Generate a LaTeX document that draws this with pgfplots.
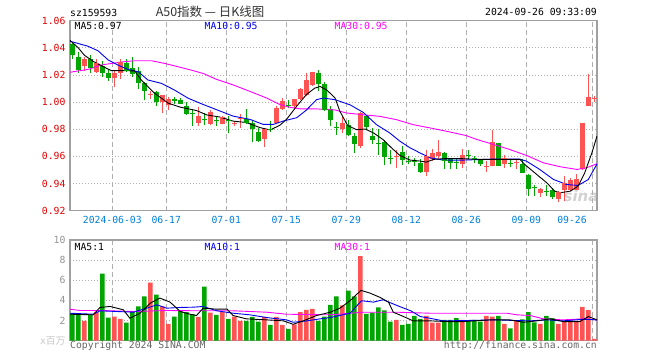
\documentclass[border=0pt]{standalone}
\usepackage{fontspec}
\usepackage{pgfplots}
\pgfplotsset{compat=1.18}
\usepackage{pgfplotstable}
\newfontfamily\mono{DejaVu Sans Mono}
\newfontfamily\cjk{Noto Sans CJK SC}
\newfontfamily\sans{DejaVu Sans}
\definecolor{cred}{RGB}{255,82,82}
\definecolor{cgreen}{RGB}{0,165,0}
\definecolor{axgray}{RGB}{160,160,160}
\definecolor{gridgray}{RGB}{175,175,175}
\definecolor{lblred}{RGB}{230,0,0}
\definecolor{lblblue}{RGB}{0,128,220}
\definecolor{mag}{RGB}{255,0,255}
\definecolor{ma10}{RGB}{0,0,240}

\pgfplotstableread{
i o h l c
2 1.0266 1.0334 1.0232 1.0317
4 1.0224 1.0315 1.0212 1.0285
7 1.0180 1.0236 1.0110 1.0212
8 1.0212 1.0317 1.0171 1.0293
13 1.0058 1.0085 1.0022 1.0058
15 1.0000 1.0050 0.9919 1.0046
16 0.9980 1.0040 0.9944 1.0022
21 0.9845 0.9963 0.9822 0.9895
23 0.9836 0.9945 0.9829 0.9921
25 0.9836 0.9897 0.9836 0.9885
27 0.9844 0.9860 0.9826 0.9844
28 0.9878 0.9910 0.9812 0.9878
32 0.9727 0.9812 0.9667 0.9800
34 0.9844 0.9970 0.9836 0.9950
35 0.9950 1.0030 0.9945 1.0006
37 0.9970 1.0023 0.9951 1.0023
38 1.0023 1.0103 1.0018 1.0096
39 1.0055 1.0212 1.0043 1.0159
40 1.0127 1.0224 1.0120 1.0217
45 0.9802 0.9895 0.9773 0.9841
48 0.9676 0.9924 0.9663 0.9919
54 0.9597 0.9650 0.9517 0.9597
59 0.9485 0.9650 0.9456 0.9597
60 0.9583 0.9651 0.9566 0.9622
61 0.9602 0.9724 0.9578 0.9631
65 0.9546 0.9651 0.9516 0.9610
69 0.9528 0.9565 0.9484 0.9528
70 0.9533 0.9794 0.9528 0.9706
72 0.9546 0.9614 0.9516 0.9583
74 0.9553 0.9583 0.9509 0.9553
78 0.9327 0.9368 0.9302 0.9356
81 0.9287 0.9344 0.9263 0.9337
82 0.9351 0.9455 0.9270 0.9400
83 0.9351 0.9442 0.9344 0.9425
84 0.9356 0.9467 0.9351 0.9430
85 0.9504 0.9848 0.9499 0.9843
86 0.9975 1.0210 0.9970 1.0035
87 1.0025 1.0045 1.0003 1.0025
}\upK

\pgfplotstableread{
i o h l c
0 1.0428 1.0445 1.0315 1.0354
1 1.0334 1.0370 1.0217 1.0244
3 1.0317 1.0346 1.0217 1.0254
5 1.0266 1.0302 1.0188 1.0217
6 1.0217 1.0236 1.0158 1.0180
9 1.0285 1.0320 1.0224 1.0232
10 1.0249 1.0334 1.0188 1.0212
11 1.0232 1.0261 1.0095 1.0144
12 1.0144 1.0150 1.0012 1.0085
14 1.0078 1.0080 0.9973 1.0005
17 1.0022 1.0040 0.9988 1.0010
18 1.0017 1.0029 0.9985 0.9988
19 0.9973 0.9998 0.9905 0.9919
20 0.9914 0.9949 0.9827 0.9914
22 0.9875 0.9920 0.9830 0.9870
24 0.9868 0.9897 0.9824 0.9868
26 0.9865 0.9897 0.9771 0.9865
29 0.9878 0.9950 0.9837 0.9849
30 0.9844 0.9861 0.9703 0.9807
31 0.9781 0.9812 0.9703 0.9715
33 0.9800 0.9861 0.9780 0.9800
36 0.9975 1.0018 0.9958 0.9975
41 1.0217 1.0236 1.0079 1.0139
42 1.0135 1.0145 0.9933 0.9945
43 0.9953 0.9970 0.9827 0.9870
44 0.9810 0.9851 0.9760 0.9810
46 0.9834 0.9866 0.9749 0.9761
47 0.9754 0.9773 0.9627 0.9695
49 0.9895 0.9907 0.9793 0.9817
50 0.9754 0.9810 0.9688 0.9724
51 0.9695 0.9802 0.9614 0.9695
52 0.9705 0.9724 0.9534 0.9597
53 0.9583 0.9646 0.9541 0.9583
55 0.9631 0.9675 0.9534 0.9578
56 0.9566 0.9602 0.9541 0.9566
57 0.9566 0.9590 0.9529 0.9566
58 0.9553 0.9578 0.9480 0.9492
62 0.9622 0.9631 0.9505 0.9573
63 0.9583 0.9590 0.9505 0.9558
64 0.9553 0.9590 0.9509 0.9553
66 0.9607 0.9646 0.9583 0.9607
67 0.9583 0.9602 0.9553 0.9583
68 0.9578 0.9583 0.9533 0.9546
71 0.9696 0.9700 0.9528 0.9533
73 0.9546 0.9570 0.9524 0.9546
75 0.9541 0.9583 0.9479 0.9484
76 0.9460 0.9467 0.9307 0.9361
77 0.9368 0.9393 0.9312 0.9368
79 0.9344 0.9393 0.9307 0.9344
80 0.9356 0.9368 0.9287 0.9302
}\downK

\pgfplotstableread{
i v
2 1.97
4 2.83
7 2.4
8 2.17
13 5.77
15 3.4
16 1.67
21 2.37
23 2.8
25 2.83
27 2.4
28 1.97
32 2.37
34 2.37
35 1.57
37 1.63
38 2.83
39 3.07
40 3.17
45 3.5
48 8.4
54 2.07
59 2.47
60 1.8
61 1.8
65 2.07
69 2.47
70 2.4
72 1.67
74 1.97
78 1.67
81 1.67
82 1.9
83 2.03
84 1.9
85 3.37
86 3.03
87 0.17
}\upV

\pgfplotstableread{
i v
0 2.73
1 2.57
3 2.57
5 6.67
6 2.3
9 1.8
10 2.83
11 3.4
12 4.4
14 4.57
17 2.4
18 2.97
19 2.83
20 2.63
22 5.37
24 2.57
26 2.17
29 1.97
30 2.37
31 1.9
33 1.57
36 1.17
41 1.97
42 2.4
43 3.57
44 4.4
46 4.97
47 4.4
49 2.67
50 2.8
51 3.3
52 3.0
53 1.9
55 1.57
56 1.67
57 2.47
58 2.17
62 2.07
63 2.07
64 2.23
66 1.97
67 2.07
68 1.9
71 2.47
73 1.23
75 2.13
76 2.83
77 1.83
79 2.47
80 2.23
}\downV

\newcommand{\mf}{\mono\fontsize{9.8}{11}\selectfont}
\pgfplotsset{
  wick/.style={only marks, mark=*, mark size=0pt, mark options={draw=none, fill=none},
    error bars/.cd, y dir=plus, y explicit, error mark=none,
    error bar style={draw=#1, line width=1bp, line cap=butt}},
  body/.style={only marks, mark=*, mark size=0pt, mark options={draw=none, fill=none},
    error bars/.cd, y dir=plus, y explicit, error mark=none,
    error bar style={draw=#1, line width=4.5bp, line cap=butt}},
  dojimark/.style={only marks, mark=-, mark size=2.4bp, mark options={draw=#1, line width=1bp}},
}

\begin{document}
\begin{tikzpicture}[x=1bp,y=1bp]
\path[use as bounding box] (0,0) rectangle (660,360);
\node[anchor=center, inner sep=0, text=gray!35, font=\sans\bfseries\itshape\fontsize{15}{16}\selectfont] at (581,164) {sina};

\begin{axis}[
  at={(70bp,149.3bp)}, anchor=south west, scale only axis,
  width=527bp, height=190bp,
  xmin=-0.383, xmax=87.45, ymin=0.92, ymax=1.06,
  axis line style={draw=axgray, line width=1.2bp},
  major tick length=0pt,
  xtick={6.667,15.667,25.667,35.667,45.667,55.667,65.667,75.667,86.667},
  xticklabels={2024-06-03,06-17,07-01,07-15,07-29,08-12,08-26,09-09,{\llap{09-26\kern5.6bp}}},
  ytick={0.92,0.94,0.96,0.98,1.00,1.02,1.04,1.06},
  yticklabels={0.92,0.94,0.96,0.98,1.00,1.02,1.04,1.06},
  xmajorgrids, ymajorgrids,
  x grid style={gridgray, dash pattern=on 5bp off 3bp, line width=0.9bp},
  y grid style={gridgray, dash pattern=on 1bp off 2bp, line width=0.9bp},
  xticklabel style={font=\mf, text=lblblue, yshift=-2.5bp},
  yticklabel style={font=\mf, text=lblred, xshift=-1bp},
  clip=true,
]
% red candles
\addplot[wick=cred] table[x=i, y=l, y error expr=\thisrow{h}-\thisrow{l}] {\upK};
\addplot[body=cred] table[x=i, y=o, y error expr=\thisrow{c}-\thisrow{o}] {\upK};
\addplot[dojimark=cred] table[x=i, y=c] {\upK};
% green candles
\addplot[wick=cgreen] table[x=i, y=l, y error expr=\thisrow{h}-\thisrow{l}] {\downK};
\addplot[body=cgreen] table[x=i, y=c, y error expr=\thisrow{o}-\thisrow{c}] {\downK};
\addplot[dojimark=cgreen] table[x=i, y=c] {\downK};
% MA30
\addplot[mag, line width=0.9bp, mark=none] coordinates {
(-0.4,1.0220)(2.6,1.0241)(4.8,1.0273)(6.5,1.0285)(8.7,1.0298)(10.4,1.0305)(13.2,1.0305)
(15.4,1.0285)(17.6,1.0261)(19.8,1.0236)(21.9,1.0210)(24,1.0168)(26.8,1.0127)(29.6,1.0079)
(32.4,1.0030)(34.6,0.9982)(36.3,0.9962)(38,0.9950)(40.7,0.9950)(43.8,0.9942)(45.7,0.9920)
(48.5,0.9907)(51.3,0.9895)(54,0.9871)(56.8,0.9834)(59.6,0.9810)(62.4,0.9785)(65.6,0.9754)
(67.4,0.9725)(70.2,0.9688)(72.9,0.9651)(75.7,0.9607)(78.5,0.9553)(81.3,0.9524)(84.1,0.9504)
(85.7,0.9516)(87.45,0.9546)};
% MA10
\addplot[ma10, line width=0.9bp, mark=none] coordinates {
(-0.4,1.0449)(2.6,1.0412)(4.3,1.0378)(6,1.0310)(7.6,1.0273)(9.3,1.0241)(11,1.0224)
(12.6,1.0163)(14.8,1.0139)(17,1.0090)(19.3,1.0029)(21.4,0.9990)(24,0.9945)(26.8,0.9897)
(29.6,0.9873)(31.8,0.9836)(33.5,0.9836)(35.2,0.9861)(37.4,0.9885)(39,0.9941)(40.7,1.0018)
(41.8,1.0030)(43.8,1.0018)(46.3,0.9980)(48.5,0.9924)(50.7,0.9834)(52.9,0.9773)(54.6,0.9712)
(56.3,0.9663)(57.9,0.9627)(59.6,0.9590)(61.8,0.9573)(65.2,0.9573)(70,0.9580)(74.6,0.9580)
(75.7,0.9565)(77.9,0.9504)(80.2,0.9430)(82.4,0.9393)(84.3,0.9386)(86,0.9430)(87.45,0.9545)};
% MA5
\addplot[black, line width=0.9bp, mark=none] coordinates {
(-0.4,1.0456)(1,1.0400)(2,1.0346)(3.5,1.0300)(5.4,1.0256)(6.5,1.0232)(8.5,1.0232)(10.4,1.0230)
(11.5,1.0163)(13.7,1.0066)(16,0.9992)(18,0.9963)(20.7,0.9938)(22.4,0.9906)(24.6,0.9890)
(26.8,0.9860)(29,0.9850)(31.3,0.9812)(33,0.9795)(34.6,0.9830)(35.7,0.9873)(37.4,0.9970)
(39,1.0055)(40.4,1.0103)(41.3,1.0115)(42.4,1.0090)(43.8,1.0030)(44.6,0.9932)(45.9,0.9827)
(47.4,0.9797)(48.8,0.9802)(50.2,0.9773)(51.8,0.9724)(53.2,0.9663)(54.6,0.9607)(56.3,0.9573)
(57.9,0.9566)(59,0.9558)(60.2,0.9578)(61.8,0.9583)(63.5,0.9585)(65.2,0.9583)(68,0.9578)
(71.3,0.9578)(74.6,0.9578)(75.4,0.9541)(77.4,0.9467)(79.1,0.9405)(80.4,0.9344)(81.3,0.9332)
(83,0.9344)(84.3,0.9381)(85.4,0.9479)(86.6,0.9627)(87.45,0.9750)};
\end{axis}

\begin{axis}[
  at={(70bp,19.3bp)}, anchor=south west, scale only axis,
  width=527bp, height=100.7bp,
  xmin=-0.383, xmax=87.45, ymin=0, ymax=10,
  axis line style={draw=axgray, line width=1.2bp},
  major tick length=0pt,
  xtick={6.667,15.667,25.667,35.667,45.667,55.667,65.667,75.667,86.667},
  xticklabels={},
  ytick={0,2,4,6,8,10},
  yticklabels={{\textcolor{gray!45}{x\cjk 百万}},2,4,6,8,10},
  xmajorgrids, ymajorgrids,
  x grid style={gridgray, dash pattern=on 5bp off 3bp, line width=0.9bp},
  y grid style={gridgray, dash pattern=on 1bp off 2bp, line width=0.9bp},
  yticklabel style={font=\mf, text=gray!85, xshift=-1bp},
  clip=true,
]
\addplot[ybar, bar width=4.5bp, bar shift=0pt, fill=cred, draw=none] table[x=i, y=v] {\upV};
\addplot[ybar, bar width=4.5bp, bar shift=0pt, fill=cgreen, draw=none] table[x=i, y=v] {\downV};
\addplot[mag, line width=0.9bp, mark=none] coordinates {
(-0.4,3.13)(1.3,3.0)(4.6,3.0)(10.2,2.9)(15.7,3.0)(21.3,2.97)(26.8,2.97)(32.4,2.83)(35.7,2.63)
(43,2.57)(48.5,2.83)(54.1,2.83)(59.6,2.73)(65.2,2.73)(72.4,2.73)(74.1,2.57)(76.3,2.5)
(78.5,2.17)(81.8,2.07)(85.2,2.17)(87.45,2.07)};
\addplot[ma10, line width=0.9bp, mark=none] coordinates {
(-0.4,2.73)(3.5,2.63)(4.6,2.97)(7.4,2.9)(10.2,2.83)(12.4,3.23)(14.1,3.57)(15.7,3.23)(17.9,3.3)
(20.2,3.33)(21.8,3.4)(24.1,2.97)(26.8,2.73)(29.6,2.57)(32.4,2.3)(35.7,2.07)(36.8,1.83)(39.1,1.97)
(41.3,2.17)(43,2.3)(46.3,2.73)(48.2,3.97)(50.2,3.83)(51.8,4.07)(54.1,3.5)(56.4,2.97)(58,2.4)
(59.6,2.23)(61.8,1.97)(65.2,2.0)(70.7,2.07)(74.1,2.0)(76.3,1.97)(79.1,2.07)(81.8,1.97)(85.2,2.13)
(87.45,2.07)};
\addplot[black, line width=0.9bp, mark=none] coordinates {
(-0.4,2.63)(3.5,2.57)(4.6,3.3)(6.3,3.4)(8.5,3.07)(9.6,2.23)(11.3,2.73)(13,3.73)(14.6,4.23)
(16.3,3.83)(18,2.9)(19.6,2.63)(20.7,2.5)(21.8,3.23)(24.1,3.13)(25.8,3.13)(26.8,2.5)(29,2.17)
(32.4,2.07)(35.2,1.97)(36.8,1.63)(38.5,1.97)(40.7,2.5)(43,2.83)(44.6,3.23)(46.3,3.97)(48.1,5.0)
(49.6,4.73)(51.3,4.3)(52.7,3.83)(53.5,2.83)(55.2,2.4)(56.8,1.97)(59.6,1.97)(62.4,1.9)(65.2,1.9)
(69.6,2.07)(72.9,2.07)(75.2,1.83)(77.4,1.97)(79.6,2.17)(81.8,1.9)(84.6,1.9)(86,2.4)(87.45,2.07)};
\end{axis}

% header texts
\node[anchor=base west, inner sep=0, font=\mf] at (70,343.5) {sz159593};
\node[anchor=base, inner sep=0, text=black!80, font=\cjk\fontsize{12.5}{14}\selectfont] at (210,343.7) {A50指数 — 日K线图};
\node[anchor=base east, inner sep=0, font=\mf] at (597,344.3) {2024-09-26 09:33:09};
% MA labels main
\node[anchor=base west, inner sep=0, font=\mf] at (74.5,330.7) {MA5:0.97};
\node[anchor=base west, inner sep=0, font=\mf, text=ma10] at (204.5,330.7) {MA10:0.95};
\node[anchor=base west, inner sep=0, font=\mf, text=mag] at (334.5,330.7) {MA30:0.95};
% MA labels volume
\node[anchor=base west, inner sep=0, font=\mf] at (74.5,109.3) {MA5:1};
\node[anchor=base west, inner sep=0, font=\mf, text=ma10] at (204.5,109.3) {MA10:1};
\node[anchor=base west, inner sep=0, font=\mf, text=mag] at (334.5,109.3) {MA30:1};
% footer
\node[anchor=base west, inner sep=0, font=\mf, text=black!60] at (70,11.5) {Copyright 2024 SINA.COM};
\node[anchor=base east, inner sep=0, font=\mf, text=black!60] at (597,11.5) {http://finance.sina.com.cn};
\end{tikzpicture}
\end{document}
